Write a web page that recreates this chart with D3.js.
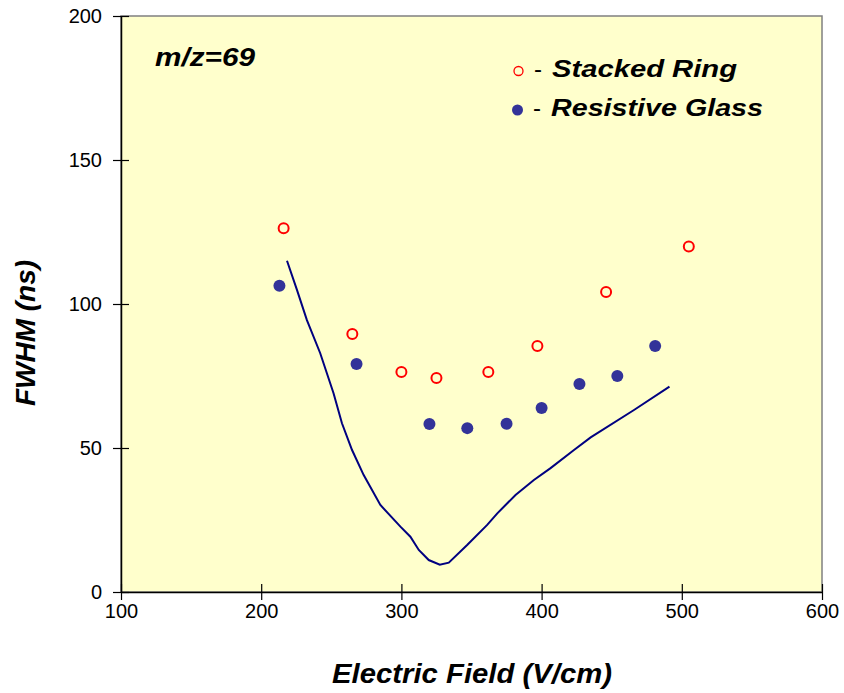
<!DOCTYPE html>
<html>
<head>
<meta charset="utf-8">
<script src="https://cdn.jsdelivr.net/npm/d3@7"></script>
<style>
  html, body { margin: 0; padding: 0; background: #ffffff; }
  svg { display: block; font-family: "Liberation Sans", Arial, sans-serif; }
</style>
</head>
<body>
<svg id="chart" width="844" height="693"></svg>
<script>
// Stacked ring lens: electric field (V/cm) vs FWHM (ns)
const stackedField = [216, 265, 300, 325, 362, 397, 446, 505];
const stackedFwhm  = [126.3, 89.6, 76.4, 74.3, 76.4, 85.4, 104.2, 120.0];

// Resistive glass lens
const glassField = [213, 268, 320, 347, 375, 400, 427, 454, 481];
const glassFwhm  = [106.3, 79.2, 58.3, 56.9, 58.4, 63.9, 72.2, 75.0, 85.4];

// Calculated curve
const curveField = [218.4, 225.5, 232.6, 242.1, 251.6, 257.6, 264.8, 273.1, 285.0, 299.3,
                    306.4, 312.4, 319.5, 327.4, 333.8, 346.9, 361.2, 368.4, 381.4, 394.5,
                    406.4, 423.1, 435.0, 465.9, 491.2];
const curveFwhm  = [115.0, 104.9, 94.4, 82.9, 69.0, 58.6, 49.3, 40.6, 30.2, 22.7,
                    19.2, 14.6, 11.1, 9.5, 10.2, 16.3, 23.3, 27.3, 33.7, 38.9,
                    43.0, 49.3, 53.7, 63.2, 71.3];

const xTicks = [100, 200, 300, 400, 500, 600];
const yTicks = [0, 50, 100, 150, 200];

const legendLabels = ["Stacked Ring", "Resistive Glass"];
const annotation = "m/z=69";
const xTitle = "Electric Field (V/cm)";
const yTitle = "FWHM (ns)";

const svg = d3.select("#chart");
const plotLeft = 121, plotRight = 822, plotTop = 16, plotBottom = 592;

const x = d3.scaleLinear().domain([100, 600]).range([plotLeft, plotRight]);
const y = d3.scaleLinear().domain([0, 200]).range([plotBottom, plotTop]);

// plot area
svg.append("rect")
  .attr("x", plotLeft).attr("y", plotTop)
  .attr("width", plotRight - plotLeft).attr("height", plotBottom - plotTop)
  .attr("fill", "#FFFFCC")
  .attr("stroke", "#808080").attr("stroke-width", 1.5);

// axes with crossing tick marks
const xAxis = svg.append("g")
  .attr("transform", `translate(0,${plotBottom})`)
  .call(d3.axisBottom(x).tickValues(xTicks).tickSizeInner(8).tickSizeOuter(0).tickPadding(4));
xAxis.selectAll(".tick line").attr("y1", -8);

const yAxis = svg.append("g")
  .attr("transform", `translate(${plotLeft},0)`)
  .call(d3.axisLeft(y).tickValues(yTicks).tickSizeInner(8).tickSizeOuter(0).tickPadding(11));
yAxis.selectAll(".tick line").attr("x1", 8);

[xAxis, yAxis].forEach(g => {
  g.select(".domain").attr("stroke", "#000").attr("stroke-width", 1.5);
  g.selectAll(".tick line").attr("stroke", "#000").attr("stroke-width", 1.2);
  g.selectAll(".tick text")
    .attr("fill", "#000")
    .attr("font-size", 20)
    .attr("font-family", "\"Liberation Sans\", Arial, sans-serif");
});

// calculated curve
const line = d3.line()
  .x((d, i) => x(curveField[i]))
  .y((d, i) => y(curveFwhm[i]));
svg.append("path")
  .datum(curveField)
  .attr("d", line)
  .attr("fill", "none")
  .attr("stroke", "#000080")
  .attr("stroke-width", 2);

// resistive glass points
svg.append("g").selectAll("circle")
  .data(glassField)
  .join("circle")
  .attr("cx", (d) => x(d))
  .attr("cy", (d, i) => y(glassFwhm[i]))
  .attr("r", 6)
  .attr("fill", "#333399");

// stacked ring points
svg.append("g").selectAll("circle")
  .data(stackedField)
  .join("circle")
  .attr("cx", (d) => x(d))
  .attr("cy", (d, i) => y(stackedFwhm[i]))
  .attr("r", 5)
  .attr("fill", "none")
  .attr("stroke", "#FF0000")
  .attr("stroke-width", 2);

// annotation
svg.append("text")
  .attr("x", 155).attr("y", 66)
  .attr("font-size", 25).attr("font-weight", "bold").attr("font-style", "italic")
  .attr("textLength", 100).attr("lengthAdjust", "spacingAndGlyphs")
  .text(annotation);

// legend
const lg = svg.append("g");
lg.append("circle").attr("cx", 518.5).attr("cy", 71).attr("r", 4.5)
  .attr("fill", "none").attr("stroke", "#FF0000").attr("stroke-width", 1.3);
lg.append("circle").attr("cx", 517.5).attr("cy", 110).attr("r", 5.5)
  .attr("fill", "#333399");
lg.append("text").attr("x", 534).attr("y", 77).attr("font-size", 24).text("-");
lg.append("text").attr("x", 533).attr("y", 116).attr("font-size", 24).text("-");
lg.append("text").attr("x", 552).attr("y", 77)
  .attr("font-size", 24).attr("font-weight", "bold").attr("font-style", "italic")
  .attr("textLength", 185).attr("lengthAdjust", "spacingAndGlyphs")
  .text(legendLabels[0]);
lg.append("text").attr("x", 551).attr("y", 116)
  .attr("font-size", 24).attr("font-weight", "bold").attr("font-style", "italic")
  .attr("textLength", 212).attr("lengthAdjust", "spacingAndGlyphs")
  .text(legendLabels[1]);

// axis titles
svg.append("text")
  .attr("x", 332).attr("y", 683)
  .attr("font-size", 28).attr("font-weight", "bold").attr("font-style", "italic")
  .attr("textLength", 280).attr("lengthAdjust", "spacingAndGlyphs")
  .text(xTitle);

svg.append("text")
  .attr("transform", "translate(35,333) rotate(-90)")
  .attr("text-anchor", "middle")
  .attr("font-size", 28).attr("font-weight", "bold").attr("font-style", "italic")
  .text(yTitle);
</script>
</body>
</html>
